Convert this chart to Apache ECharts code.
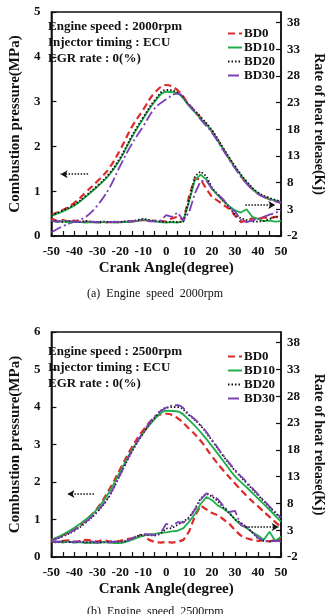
<!DOCTYPE html>
<html>
<head>
<meta charset="utf-8">
<script src="https://cdn.jsdelivr.net/npm/echarts@6/dist/echarts.min.js"></script>
<style>
  html, body { margin: 0; padding: 0; background: #fff; }
  #main { width: 334px; height: 614px; }
</style>
</head>
<body>
<div id="main"></div>
<script>
// crank angle (degree)
var angP = [-50, -45, -40, -35, -30, -25, -20, -15, -10, -5, 0, 5, 10, 15, 20, 25, 30, 35, 40, 45, 50];
var angH = [-50, -47.5, -45, -42.5, -40, -37.5, -35, -32.5, -30, -27.5, -25, -22.5, -20, -17.5, -15, -12.5, -10, -7.5, -5, -2.5,
  0, 2.5, 5, 7.5, 10, 12.5, 15, 17.5, 20, 22.5, 25, 27.5, 30, 32.5, 35, 37.5, 40, 42.5, 45, 47.5, 50];
var names = ["BD0", "BD10", "BD20", "BD30"];
var xLabels = [-50, -40, -30, -20, -10, 0, 10, 20, 30, 40, 50];
var xTicks = [-50, -45, -40, -35, -30, -25, -20, -15, -10, -5, 0, 5, 10, 15, 20, 25, 30, 35, 40, 45, 50];
var rightTicks = [-2, 3, 8, 13, 18, 23, 28, 33, 38];

// (a) 2000rpm - combustion pressure (MPa)
var p2000_bd0 = [0.47, 0.58, 0.74, 0.98, 1.22, 1.5, 1.93, 2.43, 2.82, 3.2, 3.37, 3.25, 2.93, 2.64, 2.33, 1.93, 1.53, 1.18, 0.95, 0.82, 0.74];
var p2000_bd10 = [0.45, 0.55, 0.68, 0.88, 1.1, 1.35, 1.72, 2.2, 2.62, 3.0, 3.22, 3.18, 2.9, 2.62, 2.33, 1.92, 1.53, 1.2, 0.95, 0.83, 0.76];
var p2000_bd20 = [0.46, 0.57, 0.7, 0.9, 1.12, 1.38, 1.75, 2.23, 2.65, 3.03, 3.26, 3.2, 2.93, 2.66, 2.36, 1.95, 1.56, 1.22, 0.97, 0.85, 0.77];
var p2000_bd30 = [0.08, 0.22, 0.32, 0.43, 0.68, 1.05, 1.57, 2.05, 2.45, 2.85, 3.05, 3.18, 2.92, 2.6, 2.3, 1.9, 1.51, 1.17, 0.94, 0.82, 0.74];
// (a) 2000rpm - rate of heat release
var h2000_bd0 = [1.3, 0.8, 1.0, 0.7, 0.9, 0.6, 0.7, 0.6, 0.6, 0.5, 0.6, 0.6, 0.6, 0.7, 0.7, 0.9, 1.0, 0.8, 0.9, 0.8,
  0.7, 1.3, 1.6, 1.0, 5.5, 8.8, 8.6, 6.8, 5.3, 4.6, 3.8, 3.1, 1.8, 0.6, 0.9, 1.3, 1.2, 1.5, 1.3, 1.6, 1.4];
var h2000_bd10 = [0.9, 0.6, 0.8, 0.5, 0.7, 0.6, 0.5, 0.6, 0.5, 0.6, 0.6, 0.5, 0.6, 0.6, 0.7, 0.8, 1.1, 0.9, 0.8, 0.6,
  0.5, 0.6, 0.5, 0.8, 4.5, 8.5, 9.5, 8.6, 6.8, 5.6, 4.5, 3.6, 2.8, 2.4, 3.0, 1.6, 1.2, 0.8, 0.9, 0.7, 0.8];
var h2000_bd20 = [0.7, 0.9, 0.6, 0.8, 0.7, 0.6, 0.8, 0.7, 0.6, 0.7, 0.6, 0.7, 0.6, 0.8, 0.8, 1.0, 1.2, 1.0, 0.8, 0.7,
  0.6, 0.7, 0.6, 0.7, 4.8, 9.2, 10.1, 9.2, 7.0, 5.8, 4.6, 3.4, 2.0, 1.3, 1.0, 0.7, 0.7, 0.8, 1.2, 1.6, 1.7];
var h2000_bd30 = [0.9, 0.7, 0.8, 0.9, 0.6, 0.7, 0.6, 0.7, 0.6, 0.7, 0.6, 0.6, 0.7, 0.6, 0.8, 0.8, 1.0, 0.8, 0.7, 0.9,
  1.9, 1.6, 2.4, 0.9, 2.5, 6.0, 8.3, 8.4, 6.8, 5.8, 4.8, 3.3, 2.6, 1.0, 0.6, 0.9, 1.2, 1.6, 2.0, 2.3, 2.9];

// (b) 2500rpm - combustion pressure (MPa)
var p2500_bd0 = [0.45, 0.58, 0.74, 0.98, 1.3, 1.78, 2.35, 2.92, 3.38, 3.72, 3.82, 3.7, 3.42, 3.1, 2.68, 2.3, 1.96, 1.63, 1.35, 1.07, 0.8];
var p2500_bd10 = [0.45, 0.6, 0.78, 1.0, 1.28, 1.72, 2.28, 2.85, 3.3, 3.68, 3.9, 3.88, 3.65, 3.33, 2.95, 2.55, 2.15, 1.86, 1.56, 1.26, 0.94];
var p2500_bd20 = [0.43, 0.55, 0.7, 0.92, 1.2, 1.6, 2.2, 2.8, 3.3, 3.72, 3.98, 4.0, 3.78, 3.5, 3.1, 2.68, 2.3, 1.97, 1.65, 1.33, 1.03];
var p2500_bd30 = [0.44, 0.56, 0.72, 0.94, 1.22, 1.62, 2.2, 2.82, 3.33, 3.75, 3.98, 4.05, 3.8, 3.52, 3.12, 2.7, 2.32, 2.0, 1.67, 1.35, 1.05];
// (b) 2500rpm - rate of heat release
var h2500_bd0 = [0.9, 0.8, 1.0, 1.1, 0.8, 1.0, 1.2, 1.1, 0.9, 1.2, 0.9, 0.8, 1.0, 1.3, 1.5, 1.9, 2.0, 1.2, 0.8, 0.7,
  0.8, 0.7, 0.8, 1.2, 2.8, 5.6, 7.6, 6.9, 6.2, 5.8, 5.0, 4.2, 3.0, 2.0, 1.5, 1.2, 1.0, 1.1, 0.9, 1.2, 1.3];
var h2500_bd10 = [0.8, 0.9, 0.7, 0.9, 0.7, 0.8, 0.6, 0.7, 0.6, 0.8, 0.7, 0.6, 0.6, 0.8, 1.2, 1.6, 2.0, 2.2, 2.3, 2.5,
  2.6, 2.8, 2.9, 3.4, 4.6, 6.0, 7.9, 9.2, 8.6, 7.6, 7.0, 6.2, 5.0, 4.0, 3.4, 2.6, 2.0, 1.2, 2.7, 1.0, 1.8];
var h2500_bd20 = [0.8, 0.7, 0.9, 0.8, 0.7, 0.9, 0.8, 0.7, 0.8, 0.7, 0.9, 0.8, 0.8, 1.0, 1.4, 1.9, 2.2, 2.1, 2.0, 2.3,
  3.3, 3.4, 4.0, 4.6, 5.4, 7.0, 8.9, 9.8, 9.3, 8.4, 7.2, 6.2, 5.0, 4.4, 3.6, 2.6, 1.4, 1.0, 0.9, 1.0, 1.1];
var h2500_bd30 = [0.9, 0.8, 1.0, 0.7, 0.9, 0.8, 0.7, 0.9, 0.7, 0.8, 0.7, 0.9, 0.8, 1.0, 1.4, 2.0, 2.3, 2.2, 2.1, 2.4,
  4.2, 3.8, 4.5, 4.4, 5.2, 6.8, 8.7, 9.9, 9.5, 8.8, 7.5, 6.4, 6.6, 4.0, 3.6, 2.6, 1.6, 1.0, 0.9, 1.0, 0.9];

// dotted arrows [x0, y0, x1, y1] in axis units
var arrow2000_p = [-34, 1.38, -46, 1.38];
var arrow2000_h = [34.5, 3.8, 47.5, 3.8];
var arrow2500_p = [-31.5, 1.68, -43, 1.68];
var arrow2500_h = [34.5, 3.6, 49, 3.6];

var FONT = "Liberation Serif";
var colors = ["#dd2a2a", "#1fae4b", "#111111", "#7b3fb5"];
var lineTypes = [[7, 4], "solid", [1.5, 2], [11, 3, 2, 3]];
var lineWidths = [2.2, 1.8, 1.8, 1.8];

function zip(xs, ys) {
  return xs.map(function (x, i) { return [x, ys[i]]; });
}

var myChart = echarts.init(document.getElementById("main"));

var grids = [
  { left: 34, right: 47, top: 12, height: 224 },
  { left: 34, right: 47, top: 332, height: 225 }
];

function xAxisFor(gi) {
  return {
    type: "value", gridIndex: gi, min: -50, max: 50,
    name: "Crank Angle(degree)", nameLocation: "middle", nameGap: 25,
    nameTextStyle: { fontFamily: FONT, fontWeight: "bold", fontSize: 15, color: "#111" },
    axisLine: { onZero: false, lineStyle: { color: "#111", width: 1.5 } },
    axisTick: { inside: true, length: 5, customValues: xTicks, lineStyle: { color: "#111", width: 1.2 } },
    axisLabel: { customValues: xLabels, margin: 9, fontFamily: FONT, fontWeight: "bold", fontSize: 13, color: "#111" },
    splitLine: { show: false }
  };
}
function leftAxisFor(gi, max) {
  return {
    type: "value", gridIndex: gi, min: 0, max: max, interval: 1, position: "left",
    name: "Combustion pressure(MPa)", nameLocation: "middle", nameGap: 25,
    nameTextStyle: { fontFamily: FONT, fontWeight: "bold", fontSize: 15, color: "#111" },
    axisLine: { show: true, onZero: false, lineStyle: { color: "#111", width: 1.5 } },
    axisTick: { inside: true, length: 5, lineStyle: { color: "#111", width: 1.2 } },
    axisLabel: { margin: 11, fontFamily: FONT, fontWeight: "bold", fontSize: 13, color: "#111" },
    splitLine: { show: false }
  };
}
function rightAxisFor(gi) {
  return {
    type: "value", gridIndex: gi, min: -2, max: 40, position: "right",
    name: "Rate of heat release(Kj)", nameLocation: "middle", nameGap: 31, nameRotate: -90,
    nameTextStyle: { fontFamily: FONT, fontWeight: "bold", fontSize: 14, color: "#111" },
    axisLine: { show: true, onZero: false, lineStyle: { color: "#111", width: 1.5 } },
    axisTick: { inside: true, length: 5, customValues: rightTicks, lineStyle: { color: "#111", width: 1.2 } },
    axisLabel: { customValues: rightTicks, margin: 6, fontFamily: FONT, fontWeight: "bold", fontSize: 13, color: "#111" },
    splitLine: { show: false }
  };
}

function arrowLine(a) {
  return {
    silent: true, symbol: ["none", "arrow"], symbolSize: [6, 7],
    label: { show: false },
    lineStyle: { color: "#111", type: [1.5, 1.5], width: 1.5 },
    data: [[{ coord: [a[0], a[1]] }, { coord: [a[2], a[3]] }]]
  };
}

function makeSeries(gi, pressures, heats, arrowP, arrowH) {
  var out = [];
  pressures.forEach(function (vals, i) {
    var s = {
      name: names[i], type: "line", xAxisIndex: gi, yAxisIndex: gi * 2,
      data: zip(angP, vals), smooth: 0.4, symbol: "none",
      lineStyle: { color: colors[i], type: lineTypes[i], width: lineWidths[i] },
      itemStyle: { color: colors[i] }
    };
    if (i === 2) s.markLine = arrowLine(arrowP);
    out.push(s);
  });
  heats.forEach(function (vals, i) {
    var s = {
      name: names[i], type: "line", xAxisIndex: gi, yAxisIndex: gi * 2 + 1,
      data: zip(angH, vals), symbol: "none",
      lineStyle: { color: colors[i], type: lineTypes[i], width: lineWidths[i] },
      itemStyle: { color: colors[i] }
    };
    if (i === 2) s.markLine = arrowLine(arrowH);
    out.push(s);
  });
  return out;
}

function legendFor(top) {
  return {
    orient: "vertical", left: 222, top: top, itemWidth: 14, itemHeight: 8, itemGap: 1,
    data: names, selectedMode: false,
    itemStyle: { opacity: 0 },
    textStyle: { fontFamily: FONT, fontWeight: "bold", fontSize: 13, color: "#111", padding: [0, 0, 0, -3] }
  };
}

function infoText(top, rpm) {
  var lines = ["Engine speed : " + rpm, "Injector timing : ECU", "EGR rate : 0(%)"];
  return lines.map(function (t, i) {
    return {
      type: "text", left: 48, top: top + i * 16.3,
      style: { text: t, font: "bold 13px '" + FONT + "'", fill: "#111" }
    };
  });
}

myChart.setOption({
  animation: false,
  backgroundColor: "#fff",
  grid: grids.map(function (g) {
    return Object.assign({ show: true, borderColor: "#111", borderWidth: 1.5, backgroundColor: "transparent" }, g);
  }),
  xAxis: [xAxisFor(0), xAxisFor(1)],
  yAxis: [leftAxisFor(0, 5), rightAxisFor(0), leftAxisFor(1, 6), rightAxisFor(1)],
  legend: [legendFor(22), legendFor(345)],
  series: makeSeries(0, [p2000_bd0, p2000_bd10, p2000_bd20, p2000_bd30], [h2000_bd0, h2000_bd10, h2000_bd20, h2000_bd30], arrow2000_p, arrow2000_h)
    .concat(makeSeries(1, [p2500_bd0, p2500_bd10, p2500_bd20, p2500_bd30], [h2500_bd0, h2500_bd10, h2500_bd20, h2500_bd30], arrow2500_p, arrow2500_h)),
  graphic: infoText(20, "2000rpm").concat(infoText(345, "2500rpm")).concat([
    { type: "text", left: 87, top: 288, style: { text: "(a)  Engine  speed  2000rpm", font: "12px '" + FONT + "'", fill: "#111" } },
    { type: "text", left: 87, top: 606, style: { text: "(b)  Engine  speed  2500rpm", font: "12px '" + FONT + "'", fill: "#111" } }
  ])
});
</script>
</body>
</html>
